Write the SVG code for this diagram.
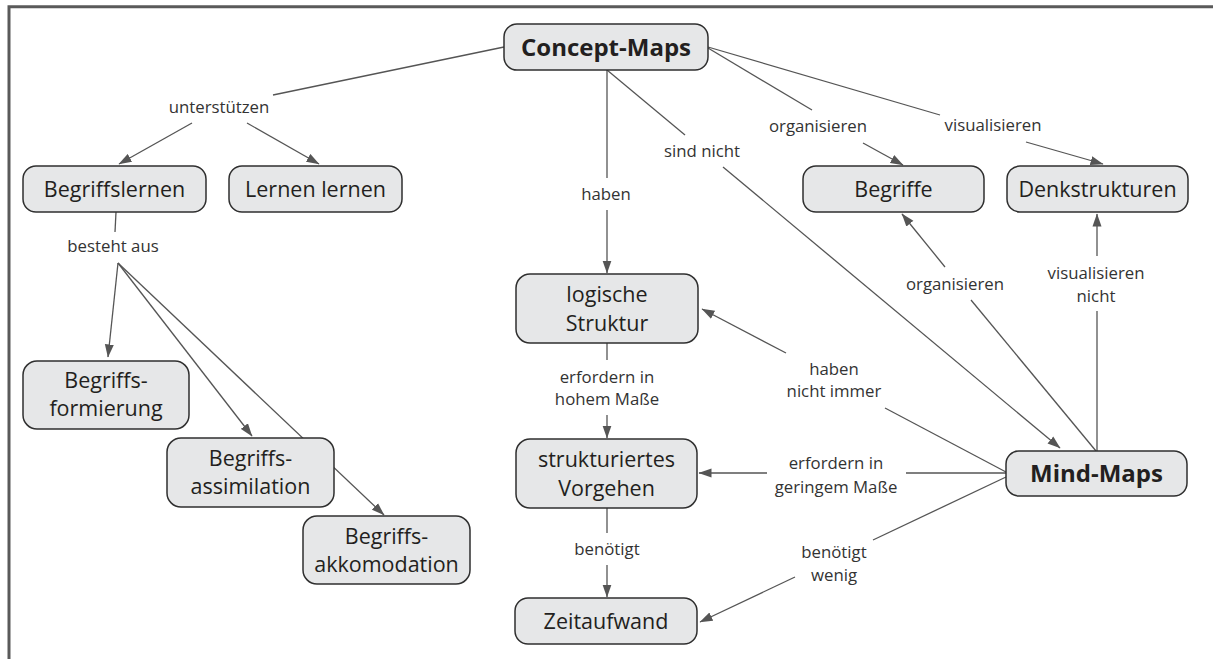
<svg xmlns="http://www.w3.org/2000/svg" width="1213" height="659" viewBox="0 0 1213 659">
<defs>
<style>
.node rect{fill:#e6e7e8;stroke:#2f2f2f;stroke-width:1.5}
.node text{font-family:"Open Sans","Liberation Sans",sans-serif;font-size:21.5px;fill:#231f20;text-anchor:middle}
.node text.b{font-weight:bold;font-size:24px}
.conn line{stroke:#555;stroke-width:1.3;fill:none}
.lbl{font-family:"Open Sans","Liberation Sans",sans-serif;font-size:16.8px;fill:#333;text-anchor:middle}
</style>
<marker id="ah" markerWidth="14" markerHeight="10" refX="12.5" refY="5" orient="auto" markerUnits="userSpaceOnUse">
<path d="M0,0.5 L13,5 L0,9.5 z" fill="#555"/>
</marker>
</defs>
<rect x="0" y="0" width="1213" height="659" fill="#fff"/>
<path d="M9,659 V6.7 H1213" fill="none" stroke="#5a5a5a" stroke-width="3"/>

<g id="connectors" class="conn">
<line x1="504" y1="47" x2="273" y2="95"/>
<line x1="192" y1="123" x2="119" y2="164" marker-end="url(#ah)"/>
<line x1="247" y1="123" x2="319" y2="164" marker-end="url(#ah)"/>
<line x1="116" y1="212" x2="115" y2="232"/>
<line x1="118" y1="263" x2="108" y2="357" marker-end="url(#ah)"/>
<line x1="118" y1="263" x2="252" y2="436" marker-end="url(#ah)"/>
<line x1="118" y1="263" x2="384" y2="515" marker-end="url(#ah)"/>
<line x1="607" y1="70" x2="607" y2="178"/>
<line x1="607" y1="210" x2="607" y2="273" marker-end="url(#ah)"/>
<line x1="607" y1="70" x2="685" y2="135"/>
<line x1="723" y1="167" x2="1060" y2="448" marker-end="url(#ah)"/>
<line x1="708" y1="48" x2="812" y2="110"/>
<line x1="863" y1="143" x2="903" y2="165" marker-end="url(#ah)"/>
<line x1="708" y1="47" x2="940" y2="115"/>
<line x1="1026" y1="142" x2="1103" y2="164" marker-end="url(#ah)"/>
<line x1="1096" y1="451" x2="971" y2="300"/>
<line x1="945" y1="267" x2="902" y2="214" marker-end="url(#ah)"/>
<line x1="1097" y1="451" x2="1097" y2="311"/>
<line x1="1097" y1="256" x2="1097" y2="214" marker-end="url(#ah)"/>
<line x1="1006" y1="472" x2="885" y2="408"/>
<line x1="786" y1="353" x2="702" y2="309" marker-end="url(#ah)"/>
<line x1="1006" y1="473" x2="906" y2="473"/>
<line x1="767" y1="473" x2="699" y2="473" marker-end="url(#ah)"/>
<line x1="1006" y1="477" x2="873" y2="540"/>
<line x1="795" y1="577" x2="700" y2="622" marker-end="url(#ah)"/>
<line x1="607" y1="343" x2="607" y2="360"/>
<line x1="607" y1="415" x2="607" y2="438" marker-end="url(#ah)"/>
<line x1="607" y1="508" x2="607" y2="533"/>
<line x1="607" y1="565" x2="607" y2="597" marker-end="url(#ah)"/>
</g>

<g id="labels">
<text class="lbl" x="219" y="113">unterstützen</text>
<text class="lbl" x="113" y="252">besteht aus</text>
<text class="lbl" x="606" y="200">haben</text>
<text class="lbl" x="702" y="157">sind nicht</text>
<text class="lbl" x="818" y="132">organisieren</text>
<text class="lbl" x="993" y="131">visualisieren</text>
<text class="lbl" x="955" y="290">organisieren</text>
<text class="lbl" x="1096" y="279">visualisieren</text>
<text class="lbl" x="1096" y="302">nicht</text>
<text class="lbl" x="834" y="375">haben</text>
<text class="lbl" x="834" y="397">nicht immer</text>
<text class="lbl" x="836" y="469">erfordern in</text>
<text class="lbl" x="836" y="493">geringem Maße</text>
<text class="lbl" x="834" y="558">benötigt</text>
<text class="lbl" x="834" y="581">wenig</text>
<text class="lbl" x="607" y="383">erfordern in</text>
<text class="lbl" x="607" y="405">hohem Maße</text>
<text class="lbl" x="607" y="555">benötigt</text>
</g>

<g id="n-concept-maps" class="node"><rect x="504" y="24" width="204" height="46" rx="13"/><text class="b" x="606" y="55.5">Concept-Maps</text></g>
<g id="n-begriffslernen" class="node"><rect x="23" y="166" width="183" height="46" rx="13"/><text x="114.5" y="197">Begriffslernen</text></g>
<g id="n-lernen-lernen" class="node"><rect x="229" y="166" width="173" height="46" rx="13"/><text x="315.5" y="197">Lernen lernen</text></g>
<g id="n-begriffe" class="node"><rect x="803" y="166" width="181" height="46" rx="13"/><text x="893.5" y="197">Begriffe</text></g>
<g id="n-denkstrukturen" class="node"><rect x="1007" y="166" width="181" height="46" rx="13"/><text x="1097.5" y="197">Denkstrukturen</text></g>
<g id="n-logische-struktur" class="node"><rect x="516" y="274" width="182" height="69" rx="14"/><text x="607" y="302">logische</text><text x="607" y="331">Struktur</text></g>
<g id="n-strukturiertes-vorgehen" class="node"><rect x="516" y="439" width="181" height="69" rx="14"/><text x="606.5" y="467">strukturiertes</text><text x="606.5" y="495.5">Vorgehen</text></g>
<g id="n-zeitaufwand" class="node"><rect x="515" y="598" width="182" height="46" rx="13"/><text x="606" y="629">Zeitaufwand</text></g>
<g id="n-mind-maps" class="node"><rect x="1006" y="451" width="181" height="45" rx="13"/><text class="b" x="1096.5" y="482">Mind-Maps</text></g>
<g id="n-begriffsformierung" class="node"><rect x="23" y="361" width="166" height="68" rx="14"/><text x="106" y="388">Begriffs-</text><text x="106" y="416">formierung</text></g>
<g id="n-begriffsassimilation" class="node"><rect x="167" y="438" width="167" height="69" rx="14"/><text x="250.5" y="466">Begriffs-</text><text x="250.5" y="494">assimilation</text></g>
<g id="n-begriffsakkomodation" class="node"><rect x="303" y="516" width="167" height="68" rx="14"/><text x="386.5" y="543.5">Begriffs-</text><text x="386.5" y="572">akkomodation</text></g>
</svg>
